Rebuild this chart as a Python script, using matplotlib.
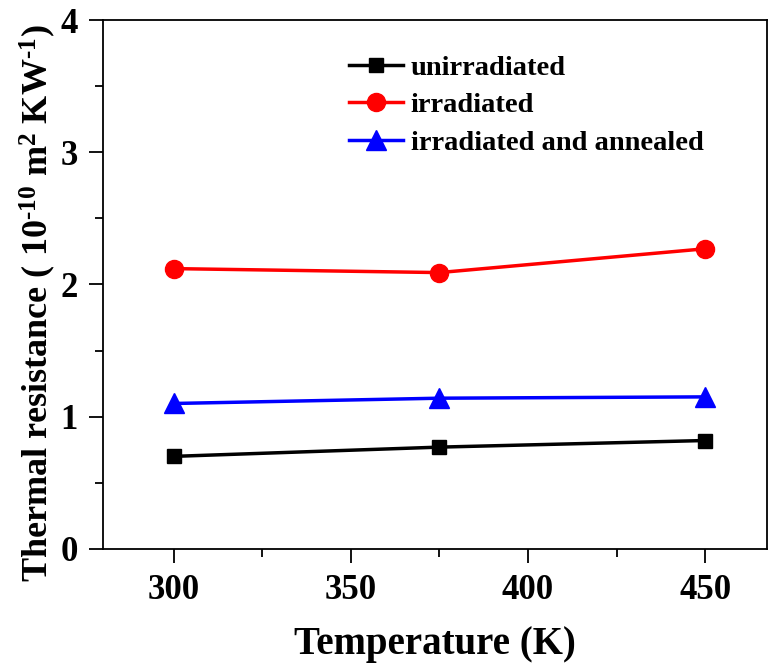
import numpy as np
import matplotlib.pyplot as plt
from matplotlib.ticker import MultipleLocator

plt.rcParams['font.family'] = ['Liberation Serif', 'DejaVu Serif']
plt.rcParams['font.weight'] = 'bold'
plt.rcParams['axes.labelweight'] = 'bold'
plt.rcParams['mathtext.fontset'] = 'custom'
plt.rcParams['mathtext.rm'] = 'Liberation Serif:bold'
plt.rcParams['mathtext.default'] = 'rm'
plt.rcParams['axes.unicode_minus'] = False

temperature = [300, 375, 450]
unirradiated = [0.70, 0.77, 0.82]
irradiated = [2.12, 2.09, 2.27]
annealed = [1.10, 1.14, 1.15]

fig = plt.figure(figsize=(7.78, 6.67), dpi=100)
ax = fig.add_axes([0.132, 0.177, 0.854, 0.793])

ax.plot(temperature, unirradiated, color='black', lw=2.5, marker='s', ms=10,
        label='unirradiated')
ax.plot(temperature, irradiated, color='red', lw=2.5, marker='o', ms=13,
        label='irradiated')
ax.plot(temperature, annealed, color='blue', lw=2.5, marker='^', ms=14,
        label='irradiated and annealed')

ax.set_xlim(280, 467.5)
ax.set_ylim(0, 4)
ax.xaxis.set_major_locator(MultipleLocator(50))
ax.xaxis.set_minor_locator(MultipleLocator(25))
ax.yaxis.set_major_locator(MultipleLocator(1))
ax.yaxis.set_minor_locator(MultipleLocator(0.5))
ax.tick_params(which='both', direction='out', width=1.3, labelsize=25)
ax.tick_params(which='major', length=10, pad=8)
ax.tick_params(which='minor', length=6)
for s in ax.spines.values():
    s.set_linewidth(1.3)

ax.set_xlabel('Temperature (K)', fontsize=28, labelpad=14)
ax.set_ylabel(r'Thermal resistance ( 10$^{\text{-10}}$ m$^{\text{2}}$ KW$^{\text{-1}}$)',
              fontsize=26)
ax.yaxis.set_label_coords(-0.068, 0.465)

ax.legend(loc='upper left', bbox_to_anchor=(0.354, 0.955), frameon=False,
          fontsize=20.5, handlelength=1.9, handletextpad=0.25, labelspacing=0.4,
          borderaxespad=0)

fig.savefig('out.png', dpi=100)
